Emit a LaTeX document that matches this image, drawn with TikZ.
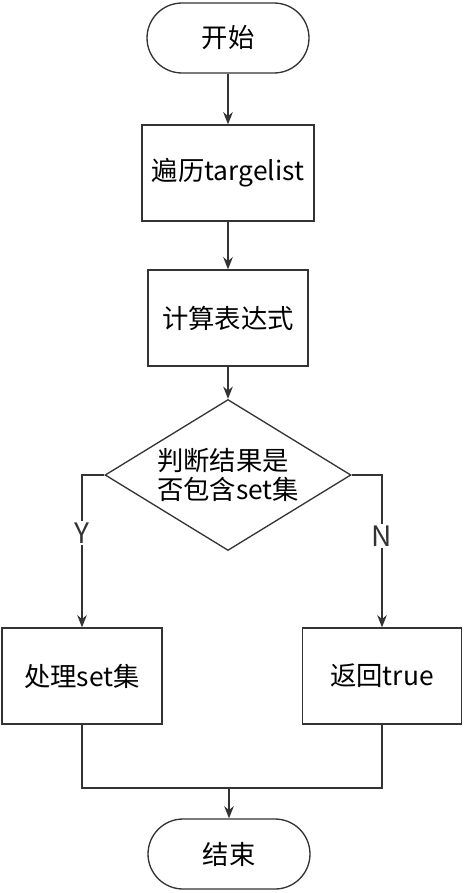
\documentclass[tikz,border=0pt]{standalone}
\usepackage{fontspec}
\usepackage{xcolor}
\usetikzlibrary{arrows.meta,shapes.geometric}
\newfontfamily\cjk{Noto Sans CJK SC}
\definecolor{FlowLine}{HTML}{333333}

\begin{document}
\begin{tikzpicture}[x=.02cm,y=-.02cm,font=\cjk\fontsize{15}{16}\selectfont,>={Stealth[length=7pt,width=5.5pt]}]
  \tikzset{
    term/.style={draw=FlowLine,line width=.75pt,rounded corners=.7cm,
      minimum width=3.24cm,minimum height=1.40cm,align=center},
    proc/.style={draw=FlowLine,line width=.75pt,minimum height=1.92cm,align=center},
    test/.style={draw=FlowLine,line width=.75pt,diamond,aspect=1.63,inner sep=0pt,
      minimum width=4.92cm,minimum height=3.02cm,align=left},
    flow/.style={FlowLine,line width=.75pt},
    yn/.style={fill=white,inner sep=1pt,font=\cjk\fontsize{16}{18}\selectfont}
  }
  \useasboundingbox (0,0) rectangle (464,893);
  \node[term] (start) at (228,38) {开始};
  \node[proc,minimum width=3.44cm] (loop) at (228,173) {遍历targelist};
  \node[proc,minimum width=3.20cm] (calc) at (228,318) {计算表达式};
  \node[test] (check) at (228,475) {判断结果是\\否包含set集};
  \node[proc,minimum width=3.20cm] (doset) at (82,676) {处理set集};
  \node[proc,minimum width=3.18cm] (rettrue) at (382,676) {返回true};
  \node[term] (stop) at (229,854) {结束};
  \coordinate (merge) at (229,788);

  \draw[->,flow] (start) -- (loop);
  \draw[->,flow] (loop) -- (calc);
  \draw[->,flow] (calc) -- (check);
  \draw[->,flow] (check.west) -| node[yn,pos=.69] {Y} (doset.north);
  \draw[->,flow] (check.east) -| node[yn,pos=.70] {N} (rettrue.north);
  \draw[flow] (doset.south) |- (merge) -| (rettrue.south);
  \draw[->,flow] (merge) -- (stop);
\end{tikzpicture}
\end{document}
